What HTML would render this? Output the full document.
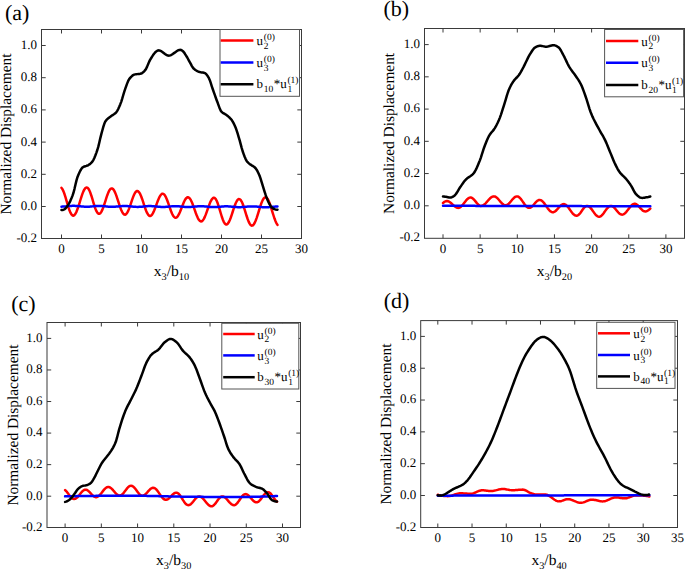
<!DOCTYPE html>
<html><head><meta charset="utf-8"><style>
html,body{margin:0;padding:0;background:#fff;}
svg{display:block;text-rendering:geometricPrecision;font-family:'Liberation Serif',serif;}
.c{fill:none;stroke-width:2.5;stroke-linejoin:round;stroke-linecap:round;}
text{fill:#000;}
</style></head><body>
<svg width="685" height="569" viewBox="0 0 685 569">
<rect width="685" height="569" fill="#fff"/>
<g><path d="M61.50,187.86 L62.50,189.25 L63.49,191.35 L64.49,194.05 L65.48,197.18 L66.48,200.56 L67.47,203.99 L68.47,207.28 L69.46,210.23 L70.46,212.66 L71.45,214.44 L72.45,215.45 L73.44,215.65 L74.44,215.08 L75.44,213.78 L76.43,211.83 L77.43,209.34 L78.42,206.43 L79.42,203.26 L80.41,200.00 L81.41,196.82 L82.40,193.90 L83.40,191.38 L84.39,189.40 L85.39,188.07 L86.38,187.46 L87.38,187.62 L88.38,188.61 L89.37,190.38 L90.37,192.80 L91.36,195.73 L92.36,198.97 L93.35,202.32 L94.35,205.57 L95.34,208.50 L96.34,210.93 L97.33,212.70 L98.33,213.70 L99.32,213.87 L100.32,213.25 L101.32,211.88 L102.31,209.87 L103.31,207.32 L104.30,204.40 L105.30,201.28 L106.29,198.15 L107.29,195.21 L108.28,192.62 L109.28,190.56 L110.27,189.14 L111.27,188.45 L112.26,188.52 L113.26,189.32 L114.26,190.79 L115.25,192.86 L116.25,195.40 L117.24,198.29 L118.24,201.35 L119.23,204.43 L120.23,207.35 L121.22,209.94 L122.22,212.08 L123.21,213.63 L124.21,214.52 L125.21,214.68 L126.20,214.10 L127.20,212.80 L128.19,210.86 L129.19,208.40 L130.18,205.59 L131.18,202.60 L132.17,199.63 L133.17,196.86 L134.16,194.48 L135.16,192.63 L136.15,191.43 L137.15,190.97 L138.15,191.26 L139.14,192.29 L140.14,193.99 L141.13,196.26 L142.13,198.97 L143.12,201.95 L144.12,205.02 L145.11,207.99 L146.11,210.70 L147.10,212.97 L148.10,214.67 L149.09,215.70 L150.09,215.99 L151.09,215.59 L152.08,214.53 L153.08,212.90 L154.07,210.77 L155.07,208.30 L156.06,205.61 L157.06,202.88 L158.05,200.27 L159.05,197.94 L160.04,196.01 L161.04,194.63 L162.03,193.85 L163.03,193.74 L164.03,194.32 L165.02,195.58 L166.02,197.43 L167.01,199.76 L168.01,202.45 L169.00,205.33 L170.00,208.23 L170.99,210.99 L171.99,213.44 L172.98,215.44 L173.98,216.86 L174.97,217.64 L175.97,217.72 L176.97,217.14 L177.96,215.94 L178.96,214.20 L179.95,212.03 L180.95,209.57 L181.94,206.98 L182.94,204.42 L183.93,202.06 L184.93,200.05 L185.92,198.52 L186.92,197.56 L187.91,197.24 L188.91,197.59 L189.91,198.60 L190.90,200.20 L191.90,202.32 L192.89,204.83 L193.89,207.60 L194.88,210.46 L195.88,213.26 L196.87,215.84 L197.87,218.06 L198.86,219.80 L199.86,220.95 L200.85,221.45 L201.85,221.27 L202.85,220.41 L203.84,218.92 L204.84,216.87 L205.83,214.40 L206.83,211.65 L207.82,208.78 L208.82,205.96 L209.81,203.35 L210.81,201.10 L211.80,199.36 L212.80,198.21 L213.79,197.74 L214.79,198.01 L215.79,199.12 L216.78,201.00 L217.78,203.53 L218.77,206.55 L219.77,209.86 L220.76,213.25 L221.76,216.50 L222.75,219.41 L223.75,221.79 L224.74,223.49 L225.74,224.40 L226.74,224.46 L227.73,223.75 L228.73,222.34 L229.72,220.29 L230.72,217.74 L231.71,214.84 L232.71,211.75 L233.70,208.66 L234.70,205.76 L235.69,203.22 L236.69,201.18 L237.68,199.78 L238.68,199.08 L239.68,199.15 L240.67,199.99 L241.67,201.57 L242.66,203.79 L243.66,206.51 L244.65,209.58 L245.65,212.82 L246.64,216.02 L247.64,219.01 L248.63,221.60 L249.63,223.64 L250.62,225.01 L251.62,225.63 L252.62,225.47 L253.61,224.56 L254.61,222.97 L255.60,220.77 L256.60,218.09 L257.59,215.05 L258.59,211.82 L259.58,208.57 L260.58,205.48 L261.57,202.70 L262.57,200.38 L263.56,198.64 L264.56,197.58 L265.56,197.24 L266.55,197.66 L267.55,198.81 L268.54,200.63 L269.54,203.02 L270.53,205.86 L271.53,209.00 L272.52,212.27 L273.52,215.50 L274.51,218.52 L275.51,221.18 L276.50,223.33 L277.50,224.86" stroke="#f00" class="c"/>
<path d="M61.50,206.64 L62.50,206.60 L63.49,206.54 L64.49,206.46 L65.48,206.37 L66.48,206.28 L67.47,206.18 L68.47,206.08 L69.46,206.00 L70.46,205.93 L71.45,205.88 L72.45,205.85 L73.44,205.84 L74.44,205.86 L75.44,205.90 L76.43,205.96 L77.43,206.04 L78.42,206.13 L79.42,206.24 L80.41,206.34 L81.41,206.44 L82.40,206.53 L83.40,206.61 L84.39,206.67 L85.39,206.72 L86.38,206.73 L87.38,206.73 L88.38,206.70 L89.37,206.65 L90.37,206.57 L91.36,206.48 L92.36,206.38 L93.35,206.28 L94.35,206.18 L95.34,206.09 L96.34,206.01 L97.33,205.96 L98.33,205.93 L99.32,205.92 L100.32,205.94 L101.32,205.99 L102.31,206.06 L103.31,206.15 L104.30,206.25 L105.30,206.36 L106.29,206.47 L107.29,206.57 L108.28,206.66 L109.28,206.73 L110.27,206.78 L111.27,206.81 L112.26,206.81 L113.26,206.78 L114.26,206.74 L115.25,206.67 L116.25,206.59 L117.24,206.50 L118.24,206.41 L119.23,206.31 L120.23,206.22 L121.22,206.14 L122.22,206.08 L123.21,206.03 L124.21,206.00 L125.21,206.00 L126.20,206.02 L127.20,206.07 L128.19,206.14 L129.19,206.23 L130.18,206.34 L131.18,206.45 L132.17,206.56 L133.17,206.67 L134.16,206.76 L135.16,206.82 L136.15,206.87 L137.15,206.89 L138.15,206.88 L139.14,206.84 L140.14,206.79 L141.13,206.71 L142.13,206.63 L143.12,206.53 L144.12,206.43 L145.11,206.33 L146.11,206.24 L147.10,206.17 L148.10,206.11 L149.09,206.08 L150.09,206.07 L151.09,206.09 L152.08,206.13 L153.08,206.20 L154.07,206.28 L155.07,206.38 L156.06,206.49 L157.06,206.60 L158.05,206.70 L159.05,206.79 L160.04,206.87 L161.04,206.93 L162.03,206.96 L163.03,206.96 L164.03,206.94 L165.02,206.90 L166.02,206.84 L167.01,206.76 L168.01,206.67 L169.00,206.57 L170.00,206.47 L170.99,206.38 L171.99,206.29 L172.98,206.23 L173.98,206.18 L174.97,206.15 L175.97,206.15 L176.97,206.18 L177.96,206.23 L178.96,206.30 L179.95,206.40 L180.95,206.50 L181.94,206.62 L182.94,206.73 L183.93,206.83 L184.93,206.92 L185.92,206.98 L186.92,207.02 L187.91,207.04 L188.91,207.03 L189.91,206.99 L190.90,206.94 L191.90,206.87 L192.89,206.78 L193.89,206.69 L194.88,206.59 L195.88,206.50 L196.87,206.41 L197.87,206.34 L198.86,206.28 L199.86,206.24 L200.85,206.22 L201.85,206.23 L202.85,206.26 L203.84,206.32 L204.84,206.40 L205.83,206.49 L206.83,206.59 L207.82,206.70 L208.82,206.81 L209.81,206.90 L210.81,206.99 L211.80,207.05 L212.80,207.10 L213.79,207.12 L214.79,207.11 L215.79,207.07 L216.78,207.02 L217.78,206.94 L218.77,206.85 L219.77,206.75 L220.76,206.64 L221.76,206.54 L222.75,206.45 L223.75,206.38 L224.74,206.33 L225.74,206.30 L226.74,206.30 L227.73,206.33 L228.73,206.38 L229.72,206.45 L230.72,206.54 L231.71,206.64 L232.71,206.75 L233.70,206.85 L234.70,206.95 L235.69,207.04 L236.69,207.11 L237.68,207.16 L238.68,207.19 L239.68,207.19 L240.67,207.16 L241.67,207.11 L242.66,207.04 L243.66,206.96 L244.65,206.87 L245.65,206.77 L246.64,206.67 L247.64,206.58 L248.63,206.50 L249.63,206.44 L250.62,206.40 L251.62,206.38 L252.62,206.38 L253.61,206.41 L254.61,206.46 L255.60,206.53 L256.60,206.61 L257.59,206.71 L258.59,206.81 L259.58,206.91 L260.58,207.01 L261.57,207.10 L262.57,207.17 L263.56,207.23 L264.56,207.26 L265.56,207.27 L266.55,207.26 L267.55,207.22 L268.54,207.17 L269.54,207.10 L270.53,207.02 L271.53,206.93 L272.52,206.84 L273.52,206.75 L274.51,206.66 L275.51,206.59 L276.50,206.53 L277.50,206.48" stroke="#00f" class="c"/>
<path d="M61.50,210.04 L62.50,209.94 L63.49,209.68 L64.49,209.32 L65.48,208.52 L66.48,207.32 L67.47,205.99 L68.47,204.44 L69.46,202.64 L70.46,200.60 L71.45,198.34 L72.45,195.88 L73.44,192.94 L74.44,189.07 L75.44,184.80 L76.43,180.65 L77.43,177.17 L78.42,174.70 L79.42,172.49 L80.41,170.51 L81.41,168.84 L82.40,167.61 L83.40,166.89 L84.39,166.48 L85.39,166.18 L86.38,165.90 L87.38,165.54 L88.38,165.03 L89.37,164.42 L90.37,163.68 L91.36,162.79 L92.36,161.66 L93.35,160.05 L94.35,157.99 L95.34,155.56 L96.34,152.87 L97.33,150.00 L98.33,146.63 L99.32,142.45 L100.32,138.08 L101.32,134.18 L102.31,130.53 L103.31,126.92 L104.30,123.76 L105.30,121.49 L106.29,120.14 L107.29,119.11 L108.28,118.27 L109.28,117.53 L110.27,116.80 L111.27,116.02 L112.26,115.33 L113.26,114.70 L114.26,114.04 L115.25,113.27 L116.25,112.29 L117.24,110.88 L118.24,109.02 L119.23,106.82 L120.23,104.42 L121.22,101.83 L122.22,98.67 L123.21,95.24 L124.21,91.88 L125.21,88.94 L126.20,86.12 L127.20,83.39 L128.19,80.97 L129.19,79.14 L130.18,77.90 L131.18,76.79 L132.17,75.85 L133.17,75.12 L134.16,74.62 L135.16,74.37 L136.15,74.22 L137.15,74.12 L138.15,74.04 L139.14,73.94 L140.14,73.79 L141.13,73.54 L142.13,73.02 L143.12,72.25 L144.12,71.29 L145.11,70.21 L146.11,68.73 L147.10,66.64 L148.10,64.26 L149.09,61.89 L150.09,59.86 L151.09,58.23 L152.08,56.62 L153.08,55.09 L154.07,53.70 L155.07,52.50 L156.06,51.57 L157.06,50.93 L158.05,50.45 L159.05,50.35 L160.04,50.59 L161.04,51.07 L162.03,51.71 L163.03,52.46 L164.03,53.25 L165.02,54.01 L166.02,54.70 L167.01,55.24 L168.01,55.57 L169.00,55.63 L170.00,55.44 L170.99,55.05 L171.99,54.51 L172.98,53.86 L173.98,53.13 L174.97,52.39 L175.97,51.67 L176.97,51.01 L177.96,50.46 L178.96,50.06 L179.95,49.86 L180.95,49.96 L181.94,50.44 L182.94,51.15 L183.93,52.32 L184.93,53.80 L185.92,55.38 L186.92,56.96 L187.91,58.74 L188.91,60.56 L189.91,62.31 L190.90,64.19 L191.90,66.06 L192.89,67.68 L193.89,68.83 L194.88,69.61 L195.88,70.28 L196.87,70.85 L197.87,71.33 L198.86,71.73 L199.86,72.05 L200.85,72.29 L201.85,72.45 L202.85,72.59 L203.84,72.78 L204.84,73.08 L205.83,73.77 L206.83,74.88 L207.82,76.29 L208.82,77.90 L209.81,80.16 L210.81,83.10 L211.80,86.27 L212.80,89.25 L213.79,92.07 L214.79,94.92 L215.79,97.73 L216.78,100.45 L217.78,103.06 L218.77,105.84 L219.77,108.56 L220.76,110.78 L221.76,112.07 L222.75,112.80 L223.75,113.33 L224.74,113.90 L225.74,114.60 L226.74,115.31 L227.73,116.06 L228.73,116.87 L229.72,117.77 L230.72,118.80 L231.71,120.02 L232.71,121.56 L233.70,123.39 L234.70,125.44 L235.69,127.76 L236.69,130.57 L237.68,133.73 L238.68,137.02 L239.68,140.37 L240.67,144.09 L241.67,147.86 L242.66,151.27 L243.66,154.09 L244.65,156.73 L245.65,159.08 L246.64,160.94 L247.64,162.20 L248.63,163.13 L249.63,163.90 L250.62,164.61 L251.62,165.33 L252.62,165.94 L253.61,166.53 L254.61,167.25 L255.60,168.25 L256.60,169.68 L257.59,171.47 L258.59,173.51 L259.58,175.78 L260.58,178.65 L261.57,181.90 L262.57,185.19 L263.56,188.30 L264.56,191.51 L265.56,194.69 L266.55,197.56 L267.55,199.96 L268.54,202.20 L269.54,204.24 L270.53,205.94 L271.53,207.17 L272.52,208.06 L273.52,208.73 L274.51,209.14 L275.51,209.43 L276.50,209.64 L277.50,209.72" stroke="#000" class="c"/>
<rect x="41.50" y="29.50" width="260.00" height="209.00" fill="none" stroke="#3a3a3a" stroke-width="1"/>
<path d="M61.50,238.50V234.50 M61.50,29.50V33.50 M101.50,238.50V234.50 M101.50,29.50V33.50 M141.50,238.50V234.50 M141.50,29.50V33.50 M181.50,238.50V234.50 M181.50,29.50V33.50 M221.50,238.50V234.50 M221.50,29.50V33.50 M261.50,238.50V234.50 M261.50,29.50V33.50 M41.50,206.50H45.70 M301.50,206.50H297.30 M41.50,174.30H45.70 M301.50,174.30H297.30 M41.50,142.10H45.70 M301.50,142.10H297.30 M41.50,109.90H45.70 M301.50,109.90H297.30 M41.50,77.70H45.70 M301.50,77.70H297.30 M41.50,45.50H45.70 M301.50,45.50H297.30" stroke="#3a3a3a" stroke-width="1" fill="none" stroke-linecap="butt"/>
<text x="61.50" y="253.00" font-size="13" text-anchor="middle" >0</text>
<text x="101.50" y="253.00" font-size="13" text-anchor="middle" >5</text>
<text x="141.50" y="253.00" font-size="13" text-anchor="middle" >10</text>
<text x="181.50" y="253.00" font-size="13" text-anchor="middle" >15</text>
<text x="221.50" y="253.00" font-size="13" text-anchor="middle" >20</text>
<text x="261.50" y="253.00" font-size="13" text-anchor="middle" >25</text>
<text x="301.50" y="253.00" font-size="13" text-anchor="middle" >30</text>
<text x="37.10" y="242.10" font-size="13" text-anchor="end" >-0.2</text>
<text x="37.10" y="209.90" font-size="13" text-anchor="end" >0.0</text>
<text x="37.10" y="177.70" font-size="13" text-anchor="end" >0.2</text>
<text x="37.10" y="145.50" font-size="13" text-anchor="end" >0.4</text>
<text x="37.10" y="113.30" font-size="13" text-anchor="end" >0.6</text>
<text x="37.10" y="81.10" font-size="13" text-anchor="end" >0.8</text>
<text x="37.10" y="48.90" font-size="13" text-anchor="end" >1.0</text>
<text x="171.50" y="275.70" font-size="15.5" text-anchor="middle">x<tspan font-size="10.3" dy="4.4">3</tspan><tspan dy="-4.4">/b</tspan><tspan font-size="10.3" dy="4.4">10</tspan></text>
<text transform="translate(10.70,134.00) rotate(-90)" font-size="15.4" text-anchor="middle">Normalized Displacement</text>
<text x="4.90" y="20.30" font-size="22" text-anchor="start" >(a)</text>
<rect x="220.00" y="29.50" width="79.50" height="66.80" fill="#fff" stroke="#555" stroke-width="1"/>
<path d="M220.70,40.60H253.40" stroke="#f00" stroke-width="2.5"/>
<text x="256.50" y="45.40" font-size="13">u<tspan font-size="9.5" dx="0.8" dy="3.6">2</tspan><tspan font-size="9.5" dx="-4.75" dy="-8.6">(0)</tspan></text>
<path d="M220.70,62.60H253.40" stroke="#00f" stroke-width="2.5"/>
<text x="256.50" y="67.10" font-size="13">u<tspan font-size="9.5" dx="0.8" dy="3.6">3</tspan><tspan font-size="9.5" dx="-4.75" dy="-8.6">(0)</tspan></text>
<path d="M220.70,84.30H253.40" stroke="#000" stroke-width="2.5"/>
<text x="256.50" y="88.40" font-size="13">b<tspan font-size="9.5" dx="0.8" dy="3.6">10</tspan><tspan dx="0.5" dy="-3.6">*u</tspan><tspan font-size="9.5" dx="0.6" dy="3.6">1</tspan><tspan font-size="9.5" dx="-4.75" dy="-8.6">(1)</tspan></text></g>
<g><path d="M443.00,202.97 L444.00,202.17 L444.99,201.55 L445.99,201.17 L446.99,201.04 L447.98,201.19 L448.98,201.58 L449.98,202.20 L450.97,202.99 L451.97,203.89 L452.97,204.83 L453.96,205.75 L454.96,206.57 L455.96,207.23 L456.95,207.68 L457.95,207.89 L458.95,207.81 L459.94,207.40 L460.94,206.69 L461.94,205.72 L462.93,204.56 L463.93,203.27 L464.93,201.95 L465.92,200.67 L466.92,199.53 L467.92,198.59 L468.91,197.92 L469.91,197.56 L470.91,197.53 L471.90,197.87 L472.90,198.54 L473.90,199.49 L474.89,200.64 L475.89,201.88 L476.89,203.11 L477.88,204.22 L478.88,205.11 L479.87,205.71 L480.87,205.96 L481.87,205.86 L482.86,205.49 L483.86,204.87 L484.86,204.02 L485.85,203.01 L486.85,201.89 L487.85,200.72 L488.84,199.58 L489.84,198.54 L490.84,197.65 L491.83,196.97 L492.83,196.53 L493.83,196.37 L494.82,196.51 L495.82,196.96 L496.82,197.68 L497.81,198.64 L498.81,199.75 L499.81,200.94 L500.80,202.12 L501.80,203.21 L502.80,204.13 L503.79,204.82 L504.79,205.22 L505.79,205.31 L506.78,205.07 L507.78,204.51 L508.78,203.68 L509.77,202.64 L510.77,201.47 L511.77,200.25 L512.76,199.07 L513.76,198.03 L514.76,197.19 L515.75,196.63 L516.75,196.38 L517.75,196.48 L518.74,196.94 L519.74,197.75 L520.74,198.84 L521.73,200.15 L522.73,201.59 L523.73,203.07 L524.72,204.48 L525.72,205.74 L526.72,206.76 L527.71,207.48 L528.71,207.85 L529.71,207.85 L530.70,207.49 L531.70,206.80 L532.70,205.86 L533.69,204.74 L534.69,203.54 L535.69,202.38 L536.68,201.36 L537.68,200.56 L538.68,200.07 L539.67,199.92 L540.67,200.12 L541.67,200.65 L542.66,201.49 L543.66,202.58 L544.66,203.87 L545.65,205.28 L546.65,206.73 L547.65,208.15 L548.64,209.46 L549.64,210.57 L550.63,211.44 L551.63,212.01 L552.63,212.24 L553.62,212.14 L554.62,211.70 L555.62,210.98 L556.61,210.02 L557.61,208.91 L558.61,207.74 L559.60,206.61 L560.60,205.61 L561.60,204.81 L562.59,204.30 L563.59,204.11 L564.59,204.26 L565.58,204.74 L566.58,205.53 L567.58,206.58 L568.57,207.83 L569.57,209.21 L570.57,210.63 L571.56,212.01 L572.56,213.27 L573.56,214.33 L574.55,215.13 L575.55,215.63 L576.55,215.79 L577.54,215.57 L578.54,214.93 L579.54,213.95 L580.53,212.69 L581.53,211.28 L582.53,209.82 L583.52,208.46 L584.52,207.30 L585.52,206.44 L586.51,205.97 L587.51,205.91 L588.51,206.23 L589.50,206.91 L590.50,207.89 L591.50,209.10 L592.49,210.47 L593.49,211.90 L594.49,213.29 L595.48,214.54 L596.48,215.57 L597.48,216.31 L598.47,216.70 L599.47,216.72 L600.47,216.37 L601.46,215.68 L602.46,214.68 L603.46,213.45 L604.45,212.07 L605.45,210.64 L606.45,209.26 L607.44,208.02 L608.44,207.01 L609.44,206.29 L610.43,205.93 L611.43,205.93 L612.43,206.27 L613.42,206.93 L614.42,207.85 L615.42,208.96 L616.41,210.18 L617.41,211.40 L618.41,212.53 L619.40,213.49 L620.40,214.19 L621.40,214.59 L622.39,214.65 L623.39,214.37 L624.38,213.78 L625.38,212.92 L626.38,211.82 L627.37,210.57 L628.37,209.24 L629.37,207.90 L630.36,206.65 L631.36,205.55 L632.36,204.68 L633.35,204.08 L634.35,203.80 L635.35,203.86 L636.34,204.25 L637.34,204.94 L638.34,205.88 L639.33,206.97 L640.33,208.12 L641.33,209.22 L642.32,210.18 L643.32,210.90 L644.32,211.34 L645.31,211.44 L646.31,211.26 L647.31,210.84 L648.30,210.23 L649.30,209.46 L650.30,208.59" stroke="#f00" class="c"/>
<path d="M443.00,205.80 L444.00,205.80 L444.99,205.80 L445.99,205.81 L446.99,205.81 L447.98,205.81 L448.98,205.81 L449.98,205.82 L450.97,205.82 L451.97,205.82 L452.97,205.82 L453.96,205.83 L454.96,205.83 L455.96,205.83 L456.95,205.83 L457.95,205.83 L458.95,205.84 L459.94,205.84 L460.94,205.84 L461.94,205.84 L462.93,205.85 L463.93,205.85 L464.93,205.85 L465.92,205.85 L466.92,205.86 L467.92,205.86 L468.91,205.86 L469.91,205.86 L470.91,205.87 L471.90,205.87 L472.90,205.87 L473.90,205.87 L474.89,205.87 L475.89,205.88 L476.89,205.88 L477.88,205.88 L478.88,205.88 L479.87,205.89 L480.87,205.89 L481.87,205.89 L482.86,205.89 L483.86,205.90 L484.86,205.90 L485.85,205.90 L486.85,205.90 L487.85,205.90 L488.84,205.91 L489.84,205.91 L490.84,205.91 L491.83,205.91 L492.83,205.92 L493.83,205.92 L494.82,205.92 L495.82,205.92 L496.82,205.93 L497.81,205.93 L498.81,205.93 L499.81,205.93 L500.80,205.93 L501.80,205.94 L502.80,205.94 L503.79,205.94 L504.79,205.94 L505.79,205.95 L506.78,205.95 L507.78,205.95 L508.78,205.95 L509.77,205.96 L510.77,205.96 L511.77,205.96 L512.76,205.96 L513.76,205.97 L514.76,205.97 L515.75,205.97 L516.75,205.97 L517.75,205.97 L518.74,205.98 L519.74,205.98 L520.74,205.98 L521.73,205.98 L522.73,205.99 L523.73,205.99 L524.72,205.99 L525.72,205.99 L526.72,206.00 L527.71,206.00 L528.71,206.00 L529.71,206.00 L530.70,206.00 L531.70,206.01 L532.70,206.01 L533.69,206.01 L534.69,206.01 L535.69,206.02 L536.68,206.02 L537.68,206.02 L538.68,206.02 L539.67,206.03 L540.67,206.03 L541.67,206.03 L542.66,206.03 L543.66,206.03 L544.66,206.04 L545.65,206.04 L546.65,206.04 L547.65,206.04 L548.64,206.05 L549.64,206.05 L550.63,206.05 L551.63,206.05 L552.63,206.06 L553.62,206.06 L554.62,206.06 L555.62,206.06 L556.61,206.07 L557.61,206.07 L558.61,206.07 L559.60,206.07 L560.60,206.07 L561.60,206.08 L562.59,206.08 L563.59,206.08 L564.59,206.08 L565.58,206.09 L566.58,206.09 L567.58,206.09 L568.57,206.09 L569.57,206.10 L570.57,206.10 L571.56,206.10 L572.56,206.10 L573.56,206.10 L574.55,206.11 L575.55,206.11 L576.55,206.11 L577.54,206.11 L578.54,206.12 L579.54,206.12 L580.53,206.12 L581.53,206.12 L582.53,206.13 L583.52,206.13 L584.52,206.13 L585.52,206.13 L586.51,206.13 L587.51,206.14 L588.51,206.14 L589.50,206.14 L590.50,206.14 L591.50,206.15 L592.49,206.15 L593.49,206.15 L594.49,206.15 L595.48,206.16 L596.48,206.16 L597.48,206.16 L598.47,206.16 L599.47,206.17 L600.47,206.17 L601.46,206.17 L602.46,206.17 L603.46,206.17 L604.45,206.18 L605.45,206.18 L606.45,206.18 L607.44,206.18 L608.44,206.19 L609.44,206.19 L610.43,206.19 L611.43,206.19 L612.43,206.20 L613.42,206.20 L614.42,206.20 L615.42,206.20 L616.41,206.20 L617.41,206.21 L618.41,206.21 L619.40,206.21 L620.40,206.21 L621.40,206.22 L622.39,206.22 L623.39,206.22 L624.38,206.22 L625.38,206.23 L626.38,206.23 L627.37,206.23 L628.37,206.23 L629.37,206.23 L630.36,206.24 L631.36,206.24 L632.36,206.24 L633.35,206.24 L634.35,206.25 L635.35,206.25 L636.34,206.25 L637.34,206.25 L638.34,206.26 L639.33,206.26 L640.33,206.26 L641.33,206.26 L642.32,206.27 L643.32,206.27 L644.32,206.27 L645.31,206.27 L646.31,206.27 L647.31,206.28 L648.30,206.28 L649.30,206.28 L650.30,206.28" stroke="#00f" class="c"/>
<path d="M443.00,196.45 L444.00,196.56 L444.99,196.69 L445.99,196.83 L446.99,196.98 L447.98,197.19 L448.98,197.41 L449.98,197.56 L450.97,197.53 L451.97,197.19 L452.97,196.62 L453.96,195.91 L454.96,195.14 L455.96,194.01 L456.95,192.51 L457.95,190.81 L458.95,189.09 L459.94,187.53 L460.94,186.09 L461.94,184.64 L462.93,183.21 L463.93,181.84 L464.93,180.58 L465.92,179.47 L466.92,178.56 L467.92,177.80 L468.91,177.13 L469.91,176.50 L470.91,175.83 L471.90,175.08 L472.90,174.17 L473.90,173.02 L474.89,171.50 L475.89,169.64 L476.89,167.53 L477.88,165.23 L478.88,162.82 L479.87,160.37 L480.87,157.57 L481.87,154.46 L482.86,151.27 L483.86,148.21 L484.86,145.51 L485.85,142.97 L486.85,140.51 L487.85,138.24 L488.84,136.21 L489.84,134.51 L490.84,133.15 L491.83,131.98 L492.83,130.85 L493.83,129.60 L494.82,128.10 L495.82,126.39 L496.82,124.51 L497.81,122.47 L498.81,120.26 L499.81,117.86 L500.80,115.12 L501.80,112.11 L502.80,108.96 L503.79,105.80 L504.79,102.69 L505.79,99.37 L506.78,95.97 L507.78,92.75 L508.78,89.94 L509.77,87.69 L510.77,85.70 L511.77,83.92 L512.76,82.31 L513.76,80.86 L514.76,79.57 L515.75,78.49 L516.75,77.51 L517.75,76.48 L518.74,75.29 L519.74,73.83 L520.74,72.16 L521.73,70.36 L522.73,68.49 L523.73,66.62 L524.72,64.65 L525.72,62.56 L526.72,60.42 L527.71,58.34 L528.71,56.41 L529.71,54.72 L530.70,53.09 L531.70,51.47 L532.70,49.98 L533.69,48.70 L534.69,47.73 L535.69,47.13 L536.68,46.64 L537.68,46.22 L538.68,45.91 L539.67,45.75 L540.67,45.75 L541.67,45.90 L542.66,46.13 L543.66,46.37 L544.66,46.58 L545.65,46.69 L546.65,46.66 L547.65,46.51 L548.64,46.29 L549.64,46.02 L550.63,45.74 L551.63,45.50 L552.63,45.32 L553.62,45.25 L554.62,45.35 L555.62,45.66 L556.61,46.13 L557.61,46.73 L558.61,47.39 L559.60,48.42 L560.60,49.94 L561.60,51.75 L562.59,53.65 L563.59,55.48 L564.59,57.42 L565.58,59.50 L566.58,61.64 L567.58,63.72 L568.57,65.66 L569.57,67.35 L570.57,68.88 L571.56,70.29 L572.56,71.63 L573.56,72.95 L574.55,74.29 L575.55,75.70 L576.55,77.18 L577.54,78.64 L578.54,80.14 L579.54,81.74 L580.53,83.52 L581.53,85.59 L582.53,88.00 L583.52,90.66 L584.52,93.45 L585.52,96.28 L586.51,99.19 L587.51,102.35 L588.51,105.59 L589.50,108.78 L590.50,111.76 L591.50,114.37 L592.49,116.65 L593.49,118.75 L594.49,120.72 L595.48,122.64 L596.48,124.56 L597.48,126.42 L598.47,128.22 L599.47,130.01 L600.47,131.80 L601.46,133.54 L602.46,135.24 L603.46,136.98 L604.45,138.83 L605.45,140.87 L606.45,143.12 L607.44,145.53 L608.44,148.02 L609.44,150.49 L610.43,152.90 L611.43,155.32 L612.43,157.78 L613.42,160.20 L614.42,162.50 L615.42,164.61 L616.41,166.60 L617.41,168.51 L618.41,170.27 L619.40,171.83 L620.40,173.14 L621.40,174.24 L622.39,175.22 L623.39,176.15 L624.38,177.08 L625.38,178.11 L626.38,179.27 L627.37,180.50 L628.37,181.80 L629.37,183.16 L630.36,184.58 L631.36,186.09 L632.36,187.89 L633.35,189.85 L634.35,191.74 L635.35,193.37 L636.34,194.51 L637.34,195.43 L638.34,196.29 L639.33,197.03 L640.33,197.58 L641.33,197.87 L642.32,197.89 L643.32,197.80 L644.32,197.66 L645.31,197.50 L646.31,197.34 L647.31,197.16 L648.30,196.95 L649.30,196.71 L650.30,196.45" stroke="#000" class="c"/>
<rect x="424.50" y="28.50" width="260.00" height="209.80" fill="none" stroke="#3a3a3a" stroke-width="1"/>
<path d="M443.00,238.30V234.30 M443.00,28.50V32.50 M480.15,238.30V234.30 M480.15,28.50V32.50 M517.30,238.30V234.30 M517.30,28.50V32.50 M554.45,238.30V234.30 M554.45,28.50V32.50 M591.60,238.30V234.30 M591.60,28.50V32.50 M628.75,238.30V234.30 M628.75,28.50V32.50 M665.90,238.30V234.30 M665.90,28.50V32.50 M424.50,205.80H428.70 M684.50,205.80H680.30 M424.50,173.56H428.70 M684.50,173.56H680.30 M424.50,141.32H428.70 M684.50,141.32H680.30 M424.50,109.08H428.70 M684.50,109.08H680.30 M424.50,76.84H428.70 M684.50,76.84H680.30 M424.50,44.60H428.70 M684.50,44.60H680.30" stroke="#3a3a3a" stroke-width="1" fill="none" stroke-linecap="butt"/>
<text x="443.00" y="252.80" font-size="13" text-anchor="middle" >0</text>
<text x="480.15" y="252.80" font-size="13" text-anchor="middle" >5</text>
<text x="517.30" y="252.80" font-size="13" text-anchor="middle" >10</text>
<text x="554.45" y="252.80" font-size="13" text-anchor="middle" >15</text>
<text x="591.60" y="252.80" font-size="13" text-anchor="middle" >20</text>
<text x="628.75" y="252.80" font-size="13" text-anchor="middle" >25</text>
<text x="665.90" y="252.80" font-size="13" text-anchor="middle" >30</text>
<text x="420.10" y="241.44" font-size="13" text-anchor="end" >-0.2</text>
<text x="420.10" y="209.20" font-size="13" text-anchor="end" >0.0</text>
<text x="420.10" y="176.96" font-size="13" text-anchor="end" >0.2</text>
<text x="420.10" y="144.72" font-size="13" text-anchor="end" >0.4</text>
<text x="420.10" y="112.48" font-size="13" text-anchor="end" >0.6</text>
<text x="420.10" y="80.24" font-size="13" text-anchor="end" >0.8</text>
<text x="420.10" y="48.00" font-size="13" text-anchor="end" >1.0</text>
<text x="554.50" y="275.50" font-size="15.5" text-anchor="middle">x<tspan font-size="10.3" dy="4.4">3</tspan><tspan dy="-4.4">/b</tspan><tspan font-size="10.3" dy="4.4">20</tspan></text>
<text transform="translate(393.90,133.40) rotate(-90)" font-size="15.4" text-anchor="middle">Normalized Displacement</text>
<text x="383.40" y="15.70" font-size="22" text-anchor="start" >(b)</text>
<rect x="604.60" y="29.50" width="79.00" height="67.30" fill="#fff" stroke="#555" stroke-width="1"/>
<path d="M606.00,41.00H638.30" stroke="#f00" stroke-width="2.5"/>
<text x="641.20" y="45.80" font-size="13">u<tspan font-size="9.5" dx="0.8" dy="3.6">2</tspan><tspan font-size="9.5" dx="-4.75" dy="-8.6">(0)</tspan></text>
<path d="M606.00,62.70H638.30" stroke="#00f" stroke-width="2.5"/>
<text x="641.20" y="67.20" font-size="13">u<tspan font-size="9.5" dx="0.8" dy="3.6">3</tspan><tspan font-size="9.5" dx="-4.75" dy="-8.6">(0)</tspan></text>
<path d="M606.00,84.90H638.30" stroke="#000" stroke-width="2.5"/>
<text x="641.20" y="89.00" font-size="13">b<tspan font-size="9.5" dx="0.8" dy="3.6">20</tspan><tspan dx="0.5" dy="-3.6">*u</tspan><tspan font-size="9.5" dx="0.6" dy="3.6">1</tspan><tspan font-size="9.5" dx="-4.75" dy="-8.6">(1)</tspan></text></g>
<g><path d="M65.10,490.06 L66.10,491.00 L67.10,492.17 L68.10,493.50 L69.10,494.87 L70.10,496.19 L71.10,497.34 L72.10,498.24 L73.10,498.82 L74.10,499.04 L75.10,498.88 L76.09,498.39 L77.09,497.58 L78.09,496.53 L79.09,495.32 L80.09,494.03 L81.09,492.76 L82.09,491.62 L83.09,490.68 L84.09,490.02 L85.09,489.69 L86.09,489.70 L87.09,490.05 L88.09,490.69 L89.09,491.57 L90.09,492.62 L91.09,493.73 L92.09,494.82 L93.09,495.77 L94.09,496.52 L95.09,496.99 L96.09,497.15 L97.09,496.97 L98.08,496.47 L99.08,495.68 L100.08,494.65 L101.08,493.46 L102.08,492.17 L103.08,490.88 L104.08,489.66 L105.08,488.60 L106.08,487.77 L107.08,487.21 L108.08,486.98 L109.08,487.07 L110.08,487.48 L111.08,488.18 L112.08,489.11 L113.08,490.21 L114.08,491.38 L115.08,492.55 L116.08,493.62 L117.08,494.51 L118.08,495.16 L119.08,495.51 L120.07,495.54 L121.07,495.20 L122.07,494.52 L123.07,493.55 L124.07,492.35 L125.07,491.03 L126.07,489.67 L127.07,488.39 L128.07,487.28 L129.07,486.42 L130.07,485.88 L131.07,485.71 L132.07,485.91 L133.07,486.48 L134.07,487.37 L135.07,488.52 L136.07,489.84 L137.07,491.23 L138.07,492.57 L139.07,493.78 L140.07,494.75 L141.06,495.41 L142.06,495.71 L143.06,495.64 L144.06,495.25 L145.06,494.57 L146.06,493.65 L147.06,492.57 L148.06,491.43 L149.06,490.31 L150.06,489.31 L151.06,488.51 L152.06,487.98 L153.06,487.76 L154.06,487.89 L155.06,488.38 L156.06,489.20 L157.06,490.31 L158.06,491.63 L159.06,493.09 L160.06,494.58 L161.06,496.04 L162.06,497.35 L163.05,498.44 L164.05,499.25 L165.05,499.72 L166.05,499.82 L167.05,499.59 L168.05,499.07 L169.05,498.29 L170.05,497.33 L171.05,496.28 L172.05,495.22 L173.05,494.25 L174.05,493.46 L175.05,492.91 L176.05,492.66 L177.05,492.76 L178.05,493.27 L179.05,494.17 L180.05,495.39 L181.05,496.86 L182.05,498.47 L183.05,500.11 L184.05,501.67 L185.04,503.04 L186.04,504.13 L187.04,504.86 L188.04,505.18 L189.04,505.09 L190.04,504.65 L191.04,503.89 L192.04,502.87 L193.04,501.69 L194.04,500.43 L195.04,499.20 L196.04,498.11 L197.04,497.24 L198.04,496.67 L199.04,496.44 L200.04,496.56 L201.04,496.99 L202.04,497.70 L203.04,498.65 L204.04,499.77 L205.04,501.00 L206.04,502.25 L207.03,503.45 L208.03,504.51 L209.03,505.36 L210.03,505.96 L211.03,506.27 L212.03,506.24 L213.03,505.82 L214.03,505.03 L215.03,503.93 L216.03,502.63 L217.03,501.22 L218.03,499.82 L219.03,498.55 L220.03,497.51 L221.03,496.80 L222.03,496.46 L223.03,496.51 L224.03,496.88 L225.03,497.53 L226.03,498.42 L227.03,499.49 L228.02,500.66 L229.02,501.83 L230.02,502.94 L231.02,503.88 L232.02,504.61 L233.02,505.06 L234.02,505.19 L235.02,504.96 L236.02,504.35 L237.02,503.38 L238.02,502.15 L239.02,500.73 L240.02,499.23 L241.02,497.76 L242.02,496.43 L243.02,495.33 L244.02,494.54 L245.02,494.13 L246.02,494.11 L247.02,494.44 L248.02,495.08 L249.02,495.98 L250.01,497.06 L251.01,498.25 L252.01,499.42 L253.01,500.50 L254.01,501.39 L255.01,502.02 L256.01,502.33 L257.01,502.29 L258.01,501.89 L259.01,501.15 L260.01,500.13 L261.01,498.90 L262.01,497.55 L263.01,496.18 L264.01,494.89 L265.01,493.77 L266.01,492.91 L267.01,492.37 L268.01,492.18 L269.01,492.39 L270.01,493.01 L271.01,493.99 L272.00,495.25 L273.00,496.68 L274.00,498.17 L275.00,499.59 L276.00,500.82 L277.00,501.76" stroke="#f00" class="c"/>
<path d="M65.10,496.36 L66.10,496.34 L67.10,496.31 L68.10,496.29 L69.10,496.27 L70.10,496.25 L71.10,496.23 L72.10,496.21 L73.10,496.19 L74.10,496.17 L75.10,496.15 L76.09,496.14 L77.09,496.12 L78.09,496.10 L79.09,496.08 L80.09,496.07 L81.09,496.05 L82.09,496.04 L83.09,496.02 L84.09,496.01 L85.09,496.00 L86.09,495.98 L87.09,495.97 L88.09,495.96 L89.09,495.94 L90.09,495.93 L91.09,495.92 L92.09,495.91 L93.09,495.90 L94.09,495.89 L95.09,495.88 L96.09,495.87 L97.09,495.86 L98.08,495.85 L99.08,495.84 L100.08,495.83 L101.08,495.83 L102.08,495.82 L103.08,495.81 L104.08,495.81 L105.08,495.80 L106.08,495.79 L107.08,495.79 L108.08,495.78 L109.08,495.78 L110.08,495.77 L111.08,495.77 L112.08,495.76 L113.08,495.76 L114.08,495.75 L115.08,495.75 L116.08,495.75 L117.08,495.74 L118.08,495.74 L119.08,495.74 L120.07,495.74 L121.07,495.74 L122.07,495.73 L123.07,495.73 L124.07,495.73 L125.07,495.73 L126.07,495.73 L127.07,495.73 L128.07,495.73 L129.07,495.73 L130.07,495.73 L131.07,495.73 L132.07,495.73 L133.07,495.73 L134.07,495.74 L135.07,495.74 L136.07,495.75 L137.07,495.76 L138.07,495.76 L139.07,495.78 L140.07,495.79 L141.06,495.80 L142.06,495.81 L143.06,495.83 L144.06,495.84 L145.06,495.86 L146.06,495.87 L147.06,495.89 L148.06,495.91 L149.06,495.93 L150.06,495.94 L151.06,495.96 L152.06,495.99 L153.06,496.01 L154.06,496.03 L155.06,496.05 L156.06,496.07 L157.06,496.09 L158.06,496.12 L159.06,496.14 L160.06,496.16 L161.06,496.19 L162.06,496.21 L163.05,496.24 L164.05,496.26 L165.05,496.28 L166.05,496.31 L167.05,496.33 L168.05,496.36 L169.05,496.38 L170.05,496.40 L171.05,496.43 L172.05,496.45 L173.05,496.47 L174.05,496.49 L175.05,496.52 L176.05,496.54 L177.05,496.56 L178.05,496.58 L179.05,496.60 L180.05,496.62 L181.05,496.64 L182.05,496.66 L183.05,496.68 L184.05,496.70 L185.04,496.71 L186.04,496.73 L187.04,496.74 L188.04,496.76 L189.04,496.77 L190.04,496.78 L191.04,496.79 L192.04,496.80 L193.04,496.81 L194.04,496.82 L195.04,496.83 L196.04,496.83 L197.04,496.84 L198.04,496.85 L199.04,496.85 L200.04,496.86 L201.04,496.86 L202.04,496.87 L203.04,496.87 L204.04,496.88 L205.04,496.88 L206.04,496.89 L207.03,496.89 L208.03,496.90 L209.03,496.90 L210.03,496.91 L211.03,496.91 L212.03,496.92 L213.03,496.92 L214.03,496.93 L215.03,496.93 L216.03,496.94 L217.03,496.94 L218.03,496.94 L219.03,496.95 L220.03,496.95 L221.03,496.96 L222.03,496.96 L223.03,496.96 L224.03,496.97 L225.03,496.97 L226.03,496.97 L227.03,496.97 L228.02,496.98 L229.02,496.98 L230.02,496.98 L231.02,496.98 L232.02,496.98 L233.02,496.98 L234.02,496.99 L235.02,496.99 L236.02,496.99 L237.02,496.99 L238.02,496.99 L239.02,496.99 L240.02,496.99 L241.02,496.99 L242.02,496.98 L243.02,496.97 L244.02,496.97 L245.02,496.96 L246.02,496.94 L247.02,496.93 L248.02,496.92 L249.02,496.90 L250.01,496.88 L251.01,496.86 L252.01,496.84 L253.01,496.82 L254.01,496.80 L255.01,496.78 L256.01,496.75 L257.01,496.72 L258.01,496.70 L259.01,496.67 L260.01,496.64 L261.01,496.61 L262.01,496.58 L263.01,496.55 L264.01,496.51 L265.01,496.48 L266.01,496.45 L267.01,496.41 L268.01,496.38 L269.01,496.34 L270.01,496.30 L271.01,496.27 L272.00,496.23 L273.00,496.19 L274.00,496.16 L275.00,496.12 L276.00,496.08 L277.00,496.04" stroke="#00f" class="c"/>
<path d="M65.10,501.88 L66.10,501.65 L67.10,501.24 L68.10,500.70 L69.10,500.06 L70.10,499.31 L71.10,498.24 L72.10,496.97 L73.10,495.63 L74.10,494.33 L75.10,492.93 L76.09,491.45 L77.09,490.05 L78.09,488.88 L79.09,487.99 L80.09,487.19 L81.09,486.53 L82.09,486.09 L83.09,485.83 L84.09,485.64 L85.09,485.48 L86.09,485.28 L87.09,484.99 L88.09,484.63 L89.09,484.19 L90.09,483.62 L91.09,482.80 L92.09,481.49 L93.09,479.90 L94.09,478.21 L95.09,476.38 L96.09,474.31 L97.09,472.19 L98.08,470.19 L99.08,468.23 L100.08,466.28 L101.08,464.42 L102.08,462.73 L103.08,461.26 L104.08,459.94 L105.08,458.71 L106.08,457.48 L107.08,456.19 L108.08,454.92 L109.08,453.66 L110.08,452.34 L111.08,450.88 L112.08,449.29 L113.08,447.59 L114.08,445.71 L115.08,443.55 L116.08,440.97 L117.08,437.45 L118.08,433.46 L119.08,429.68 L120.07,426.37 L121.07,423.13 L122.07,419.99 L123.07,416.99 L124.07,414.18 L125.07,411.59 L126.07,409.27 L127.07,407.16 L128.07,405.19 L129.07,403.31 L130.07,401.44 L131.07,399.52 L132.07,397.52 L133.07,395.54 L134.07,393.55 L135.07,391.50 L136.07,389.35 L137.07,387.03 L138.07,384.56 L139.07,381.99 L140.07,379.36 L141.06,376.73 L142.06,374.10 L143.06,371.31 L144.06,368.49 L145.06,365.81 L146.06,363.42 L147.06,361.41 L148.06,359.55 L149.06,357.84 L150.06,356.32 L151.06,355.03 L152.06,354.01 L153.06,353.19 L154.06,352.50 L155.06,351.88 L156.06,351.28 L157.06,350.64 L158.06,349.90 L159.06,348.99 L160.06,347.84 L161.06,346.53 L162.06,345.18 L163.05,343.90 L164.05,342.82 L165.05,341.99 L166.05,341.20 L167.05,340.44 L168.05,339.76 L169.05,339.24 L170.05,338.93 L171.05,338.89 L172.05,339.13 L173.05,339.60 L174.05,340.24 L175.05,341.00 L176.05,341.81 L177.05,342.65 L178.05,343.76 L179.05,345.13 L180.05,346.65 L181.05,348.18 L182.05,349.62 L183.05,350.84 L184.05,351.88 L185.04,352.83 L186.04,353.73 L187.04,354.64 L188.04,355.60 L189.04,356.66 L190.04,357.87 L191.04,359.23 L192.04,360.74 L193.04,362.39 L194.04,364.19 L195.04,366.15 L196.04,368.42 L197.04,370.99 L198.04,373.73 L199.04,376.51 L200.04,379.22 L201.04,382.00 L202.04,384.87 L203.04,387.70 L204.04,390.40 L205.04,392.84 L206.04,395.03 L207.03,397.07 L208.03,399.00 L209.03,400.88 L210.03,402.77 L211.03,404.60 L212.03,406.34 L213.03,408.07 L214.03,409.90 L215.03,411.91 L216.03,414.19 L217.03,416.68 L218.03,419.32 L219.03,422.05 L220.03,424.80 L221.03,427.56 L222.03,430.40 L223.03,433.31 L224.03,436.26 L225.03,439.25 L226.03,442.53 L227.03,445.81 L228.02,448.42 L229.02,450.44 L230.02,452.22 L231.02,453.80 L232.02,455.25 L233.02,456.63 L234.02,457.91 L235.02,459.02 L236.02,460.04 L237.02,461.06 L238.02,462.16 L239.02,463.43 L240.02,464.98 L241.02,466.90 L242.02,469.02 L243.02,471.21 L244.02,473.29 L245.02,475.18 L246.02,477.10 L247.02,479.02 L248.02,480.79 L249.02,482.28 L250.01,483.36 L251.01,484.17 L252.01,484.86 L253.01,485.46 L254.01,485.98 L255.01,486.44 L256.01,486.86 L257.01,487.19 L258.01,487.47 L259.01,487.71 L260.01,487.97 L261.01,488.29 L262.01,488.68 L263.01,489.26 L264.01,490.07 L265.01,491.07 L266.01,492.19 L267.01,493.35 L268.01,494.64 L269.01,496.30 L270.01,497.97 L271.01,499.32 L272.00,500.02 L273.00,500.52 L274.00,500.94 L275.00,501.27 L276.00,501.49 L277.00,501.57" stroke="#000" class="c"/>
<rect x="47.00" y="322.50" width="253.50" height="205.00" fill="none" stroke="#3a3a3a" stroke-width="1"/>
<path d="M65.10,527.50V523.50 M65.10,322.50V326.50 M101.33,527.50V523.50 M101.33,322.50V326.50 M137.57,527.50V523.50 M137.57,322.50V326.50 M173.81,527.50V523.50 M173.81,322.50V326.50 M210.04,527.50V523.50 M210.04,322.50V326.50 M246.28,527.50V523.50 M246.28,322.50V326.50 M282.51,527.50V523.50 M282.51,322.50V326.50 M47.00,496.20H51.20 M300.50,496.20H296.30 M47.00,464.64H51.20 M300.50,464.64H296.30 M47.00,433.08H51.20 M300.50,433.08H296.30 M47.00,401.52H51.20 M300.50,401.52H296.30 M47.00,369.96H51.20 M300.50,369.96H296.30 M47.00,338.40H51.20 M300.50,338.40H296.30" stroke="#3a3a3a" stroke-width="1" fill="none" stroke-linecap="butt"/>
<text x="65.10" y="542.00" font-size="13" text-anchor="middle" >0</text>
<text x="101.33" y="542.00" font-size="13" text-anchor="middle" >5</text>
<text x="137.57" y="542.00" font-size="13" text-anchor="middle" >10</text>
<text x="173.81" y="542.00" font-size="13" text-anchor="middle" >15</text>
<text x="210.04" y="542.00" font-size="13" text-anchor="middle" >20</text>
<text x="246.28" y="542.00" font-size="13" text-anchor="middle" >25</text>
<text x="282.51" y="542.00" font-size="13" text-anchor="middle" >30</text>
<text x="42.60" y="531.16" font-size="13" text-anchor="end" >-0.2</text>
<text x="42.60" y="499.60" font-size="13" text-anchor="end" >0.0</text>
<text x="42.60" y="468.04" font-size="13" text-anchor="end" >0.2</text>
<text x="42.60" y="436.48" font-size="13" text-anchor="end" >0.4</text>
<text x="42.60" y="404.92" font-size="13" text-anchor="end" >0.6</text>
<text x="42.60" y="373.36" font-size="13" text-anchor="end" >0.8</text>
<text x="42.60" y="341.80" font-size="13" text-anchor="end" >1.0</text>
<text x="173.75" y="564.70" font-size="15.5" text-anchor="middle">x<tspan font-size="10.3" dy="4.4">3</tspan><tspan dy="-4.4">/b</tspan><tspan font-size="10.3" dy="4.4">30</tspan></text>
<text transform="translate(17.70,425.00) rotate(-90)" font-size="15.4" text-anchor="middle">Normalized Displacement</text>
<text x="11.20" y="310.80" font-size="22" text-anchor="start" >(c)</text>
<rect x="221.80" y="323.30" width="77.00" height="65.70" fill="#fff" stroke="#555" stroke-width="1"/>
<path d="M223.20,334.00H254.70" stroke="#f00" stroke-width="2.5"/>
<text x="257.30" y="338.80" font-size="13">u<tspan font-size="9.5" dx="0.8" dy="3.6">2</tspan><tspan font-size="9.5" dx="-4.75" dy="-8.6">(0)</tspan></text>
<path d="M223.20,355.40H254.70" stroke="#00f" stroke-width="2.5"/>
<text x="257.30" y="359.90" font-size="13">u<tspan font-size="9.5" dx="0.8" dy="3.6">3</tspan><tspan font-size="9.5" dx="-4.75" dy="-8.6">(0)</tspan></text>
<path d="M223.20,377.20H254.70" stroke="#000" stroke-width="2.5"/>
<text x="257.30" y="381.30" font-size="13">b<tspan font-size="9.5" dx="0.8" dy="3.6">30</tspan><tspan dx="0.5" dy="-3.6">*u</tspan><tspan font-size="9.5" dx="0.6" dy="3.6">1</tspan><tspan font-size="9.5" dx="-4.75" dy="-8.6">(1)</tspan></text></g>
<g><path d="M437.80,494.77 L438.80,495.04 L439.80,495.27 L440.79,495.48 L441.79,495.65 L442.79,495.80 L443.79,495.92 L444.78,496.01 L445.78,496.08 L446.78,496.12 L447.78,496.14 L448.78,496.11 L449.77,495.99 L450.77,495.78 L451.77,495.52 L452.77,495.20 L453.77,494.87 L454.76,494.52 L455.76,494.18 L456.76,493.87 L457.76,493.61 L458.75,493.41 L459.75,493.29 L460.75,493.27 L461.75,493.30 L462.75,493.34 L463.74,493.39 L464.74,493.46 L465.74,493.53 L466.74,493.59 L467.74,493.66 L468.73,493.71 L469.73,493.74 L470.73,493.75 L471.73,493.67 L472.72,493.46 L473.72,493.15 L474.72,492.77 L475.72,492.34 L476.72,491.89 L477.71,491.45 L478.71,491.04 L479.71,490.69 L480.71,490.43 L481.70,490.28 L482.70,490.25 L483.70,490.30 L484.70,490.39 L485.70,490.51 L486.69,490.64 L487.69,490.77 L488.69,490.89 L489.69,490.98 L490.69,491.04 L491.68,491.03 L492.68,490.95 L493.68,490.80 L494.68,490.60 L495.67,490.36 L496.67,490.10 L497.67,489.84 L498.67,489.58 L499.67,489.35 L500.66,489.17 L501.66,489.04 L502.66,488.98 L503.66,489.00 L504.66,489.10 L505.65,489.24 L506.65,489.42 L507.65,489.62 L508.65,489.81 L509.64,489.99 L510.64,490.13 L511.64,490.23 L512.64,490.25 L513.64,490.23 L514.63,490.17 L515.63,490.10 L516.63,490.02 L517.63,489.92 L518.62,489.83 L519.62,489.75 L520.62,489.68 L521.62,489.63 L522.62,489.61 L523.61,489.71 L524.61,489.99 L525.61,490.41 L526.61,490.94 L527.61,491.51 L528.60,492.08 L529.60,492.61 L530.60,493.06 L531.60,493.37 L532.59,493.67 L533.59,493.96 L534.59,494.22 L535.59,494.42 L536.59,494.53 L537.58,494.55 L538.58,494.55 L539.58,494.55 L540.58,494.55 L541.58,494.55 L542.57,494.55 L543.57,494.55 L544.57,494.55 L545.57,494.55 L546.56,494.71 L547.56,495.05 L548.56,495.53 L549.56,496.13 L550.56,496.81 L551.55,497.54 L552.55,498.28 L553.55,499.02 L554.55,499.70 L555.54,500.31 L556.54,500.82 L557.54,501.18 L558.54,501.37 L559.54,501.36 L560.53,501.21 L561.53,500.94 L562.53,500.60 L563.53,500.23 L564.53,499.87 L565.52,499.54 L566.52,499.30 L567.52,499.17 L568.52,499.19 L569.51,499.32 L570.51,499.55 L571.51,499.86 L572.51,500.22 L573.51,500.62 L574.50,501.04 L575.50,501.46 L576.50,501.85 L577.50,502.20 L578.49,502.49 L579.49,502.70 L580.49,502.81 L581.49,502.79 L582.49,502.63 L583.48,502.36 L584.48,502.01 L585.48,501.61 L586.48,501.18 L587.48,500.75 L588.47,500.35 L589.47,500.02 L590.47,499.77 L591.47,499.65 L592.46,499.65 L593.46,499.74 L594.46,499.89 L595.46,500.08 L596.46,500.31 L597.45,500.55 L598.45,500.78 L599.45,501.00 L600.45,501.18 L601.45,501.31 L602.44,501.38 L603.44,501.36 L604.44,501.21 L605.44,500.96 L606.43,500.62 L607.43,500.23 L608.43,499.79 L609.43,499.34 L610.43,498.88 L611.42,498.46 L612.42,498.07 L613.42,497.76 L614.42,497.53 L615.41,497.42 L616.41,497.42 L617.41,497.49 L618.41,497.61 L619.41,497.75 L620.40,497.91 L621.40,498.07 L622.40,498.21 L623.40,498.31 L624.40,498.36 L625.39,498.33 L626.39,498.18 L627.39,497.93 L628.39,497.61 L629.38,497.24 L630.38,496.85 L631.38,496.47 L632.38,496.11 L633.38,495.82 L634.37,495.61 L635.37,495.51 L636.37,495.50 L637.37,495.50 L638.37,495.51 L639.36,495.52 L640.36,495.54 L641.36,495.57 L642.36,495.61 L643.35,495.67 L644.35,495.75 L645.35,495.84 L646.35,495.96 L647.35,496.10 L648.34,496.26 L649.34,496.45" stroke="#f00" class="c"/>
<path d="M437.80,495.66 L438.80,495.66 L439.80,495.65 L440.79,495.65 L441.79,495.65 L442.79,495.65 L443.79,495.65 L444.78,495.64 L445.78,495.64 L446.78,495.64 L447.78,495.64 L448.78,495.63 L449.77,495.63 L450.77,495.63 L451.77,495.63 L452.77,495.63 L453.77,495.62 L454.76,495.62 L455.76,495.62 L456.76,495.62 L457.76,495.61 L458.75,495.61 L459.75,495.61 L460.75,495.61 L461.75,495.61 L462.75,495.60 L463.74,495.60 L464.74,495.60 L465.74,495.60 L466.74,495.59 L467.74,495.59 L468.73,495.59 L469.73,495.59 L470.73,495.58 L471.73,495.58 L472.72,495.58 L473.72,495.58 L474.72,495.58 L475.72,495.57 L476.72,495.57 L477.71,495.57 L478.71,495.57 L479.71,495.56 L480.71,495.56 L481.70,495.56 L482.70,495.56 L483.70,495.56 L484.70,495.55 L485.70,495.55 L486.69,495.55 L487.69,495.55 L488.69,495.54 L489.69,495.54 L490.69,495.54 L491.68,495.54 L492.68,495.54 L493.68,495.53 L494.68,495.53 L495.67,495.53 L496.67,495.53 L497.67,495.52 L498.67,495.52 L499.67,495.52 L500.66,495.52 L501.66,495.52 L502.66,495.51 L503.66,495.51 L504.66,495.51 L505.65,495.51 L506.65,495.50 L507.65,495.50 L508.65,495.50 L509.64,495.50 L510.64,495.49 L511.64,495.49 L512.64,495.49 L513.64,495.49 L514.63,495.49 L515.63,495.48 L516.63,495.48 L517.63,495.48 L518.62,495.48 L519.62,495.47 L520.62,495.47 L521.62,495.47 L522.62,495.47 L523.61,495.47 L524.61,495.46 L525.61,495.46 L526.61,495.46 L527.61,495.46 L528.60,495.45 L529.60,495.45 L530.60,495.45 L531.60,495.45 L532.59,495.45 L533.59,495.44 L534.59,495.44 L535.59,495.44 L536.59,495.44 L537.58,495.43 L538.58,495.43 L539.58,495.43 L540.58,495.43 L541.58,495.42 L542.57,495.42 L543.57,495.42 L544.57,495.42 L545.57,495.42 L546.56,495.41 L547.56,495.41 L548.56,495.41 L549.56,495.41 L550.56,495.40 L551.55,495.40 L552.55,495.40 L553.55,495.40 L554.55,495.40 L555.54,495.39 L556.54,495.39 L557.54,495.39 L558.54,495.39 L559.54,495.38 L560.53,495.38 L561.53,495.38 L562.53,495.38 L563.53,495.38 L564.53,495.37 L565.52,495.37 L566.52,495.37 L567.52,495.37 L568.52,495.36 L569.51,495.36 L570.51,495.36 L571.51,495.36 L572.51,495.36 L573.51,495.35 L574.50,495.35 L575.50,495.35 L576.50,495.35 L577.50,495.34 L578.49,495.34 L579.49,495.34 L580.49,495.34 L581.49,495.33 L582.49,495.33 L583.48,495.33 L584.48,495.33 L585.48,495.33 L586.48,495.32 L587.48,495.32 L588.47,495.32 L589.47,495.32 L590.47,495.31 L591.47,495.31 L592.46,495.31 L593.46,495.31 L594.46,495.31 L595.46,495.30 L596.46,495.30 L597.45,495.30 L598.45,495.30 L599.45,495.29 L600.45,495.29 L601.45,495.29 L602.44,495.29 L603.44,495.29 L604.44,495.28 L605.44,495.28 L606.43,495.28 L607.43,495.28 L608.43,495.27 L609.43,495.27 L610.43,495.27 L611.42,495.27 L612.42,495.27 L613.42,495.26 L614.42,495.26 L615.41,495.26 L616.41,495.26 L617.41,495.25 L618.41,495.25 L619.41,495.25 L620.40,495.25 L621.40,495.24 L622.40,495.24 L623.40,495.24 L624.40,495.24 L625.39,495.24 L626.39,495.23 L627.39,495.23 L628.39,495.23 L629.38,495.23 L630.38,495.22 L631.38,495.22 L632.38,495.22 L633.38,495.22 L634.37,495.22 L635.37,495.21 L636.37,495.21 L637.37,495.21 L638.37,495.21 L639.36,495.20 L640.36,495.20 L641.36,495.20 L642.36,495.20 L643.35,495.20 L644.35,495.19 L645.35,495.19 L646.35,495.19 L647.35,495.19 L648.34,495.18 L649.34,495.18" stroke="#00f" class="c"/>
<path d="M437.80,495.18 L438.80,495.47 L439.79,495.60 L440.79,495.57 L441.79,495.41 L442.78,495.12 L443.78,494.74 L444.78,494.27 L445.77,493.73 L446.77,493.15 L447.77,492.52 L448.76,491.89 L449.76,491.25 L450.76,490.62 L451.75,490.02 L452.75,489.44 L453.74,488.89 L454.74,488.39 L455.74,487.93 L456.73,487.50 L457.73,487.09 L458.73,486.67 L459.72,486.23 L460.72,485.76 L461.72,485.22 L462.71,484.62 L463.71,483.92 L464.71,483.13 L465.70,482.24 L466.70,481.23 L467.70,480.09 L468.69,478.84 L469.69,477.50 L470.69,476.09 L471.68,474.63 L472.68,473.14 L473.68,471.66 L474.67,470.20 L475.67,468.75 L476.67,467.30 L477.66,465.83 L478.66,464.33 L479.65,462.78 L480.65,461.17 L481.65,459.50 L482.64,457.80 L483.64,456.07 L484.64,454.31 L485.63,452.54 L486.63,450.74 L487.63,448.89 L488.62,446.98 L489.62,444.98 L490.62,442.89 L491.61,440.70 L492.61,438.42 L493.61,436.06 L494.60,433.63 L495.60,431.13 L496.60,428.58 L497.59,425.98 L498.59,423.36 L499.59,420.70 L500.58,418.02 L501.58,415.33 L502.58,412.63 L503.57,409.93 L504.57,407.24 L505.57,404.57 L506.56,401.92 L507.56,399.28 L508.55,396.64 L509.55,394.00 L510.55,391.34 L511.54,388.66 L512.54,385.94 L513.54,383.22 L514.53,380.52 L515.53,377.85 L516.53,375.24 L517.52,372.70 L518.52,370.23 L519.52,367.82 L520.51,365.48 L521.51,363.22 L522.51,361.05 L523.50,358.97 L524.50,357.01 L525.50,355.17 L526.49,353.44 L527.49,351.81 L528.49,350.25 L529.48,348.73 L530.48,347.24 L531.48,345.80 L532.47,344.42 L533.47,343.14 L534.46,341.98 L535.46,340.96 L536.46,340.07 L537.45,339.28 L538.45,338.60 L539.45,338.00 L540.44,337.50 L541.44,337.13 L542.44,336.92 L543.43,336.89 L544.43,337.06 L545.43,337.39 L546.42,337.85 L547.42,338.39 L548.42,339.01 L549.41,339.71 L550.41,340.49 L551.41,341.36 L552.40,342.32 L553.40,343.37 L554.40,344.49 L555.39,345.68 L556.39,346.92 L557.39,348.21 L558.38,349.54 L559.38,350.94 L560.38,352.41 L561.37,353.97 L562.37,355.61 L563.36,357.32 L564.36,359.10 L565.36,360.93 L566.35,362.81 L567.35,364.77 L568.35,366.88 L569.34,369.22 L570.34,371.85 L571.34,374.82 L572.33,378.04 L573.33,381.38 L574.33,384.71 L575.32,387.91 L576.32,390.90 L577.32,393.71 L578.31,396.39 L579.31,399.01 L580.31,401.60 L581.30,404.22 L582.30,406.88 L583.30,409.58 L584.29,412.29 L585.29,415.01 L586.29,417.71 L587.28,420.39 L588.28,423.02 L589.27,425.60 L590.27,428.11 L591.27,430.56 L592.26,432.93 L593.26,435.23 L594.26,437.44 L595.25,439.57 L596.25,441.61 L597.25,443.56 L598.24,445.43 L599.24,447.25 L600.24,449.03 L601.23,450.80 L602.23,452.59 L603.23,454.41 L604.22,456.30 L605.22,458.27 L606.22,460.31 L607.21,462.39 L608.21,464.47 L609.21,466.52 L610.20,468.51 L611.20,470.41 L612.20,472.19 L613.19,473.87 L614.19,475.45 L615.19,476.97 L616.18,478.41 L617.18,479.79 L618.17,481.08 L619.17,482.26 L620.17,483.32 L621.16,484.24 L622.16,485.03 L623.16,485.70 L624.15,486.29 L625.15,486.81 L626.15,487.28 L627.14,487.73 L628.14,488.19 L629.14,488.67 L630.13,489.16 L631.13,489.67 L632.13,490.19 L633.12,490.71 L634.12,491.23 L635.12,491.74 L636.11,492.24 L637.11,492.73 L638.11,493.18 L639.10,493.61 L640.10,493.99 L641.10,494.33 L642.09,494.61 L643.09,494.84 L644.08,495.00 L645.08,495.08 L646.08,495.08 L647.07,495.00 L648.07,494.82 L649.07,494.55" stroke="#000" class="c"/>
<rect x="420.70" y="320.60" width="256.80" height="206.90" fill="none" stroke="#3a3a3a" stroke-width="1"/>
<path d="M437.80,527.50V523.50 M437.80,320.60V324.60 M472.03,527.50V523.50 M472.03,320.60V324.60 M506.26,527.50V523.50 M506.26,320.60V324.60 M540.49,527.50V523.50 M540.49,320.60V324.60 M574.72,527.50V523.50 M574.72,320.60V324.60 M608.95,527.50V523.50 M608.95,320.60V324.60 M643.18,527.50V523.50 M643.18,320.60V324.60 M420.70,495.50H424.90 M677.50,495.50H673.30 M420.70,463.68H424.90 M677.50,463.68H673.30 M420.70,431.86H424.90 M677.50,431.86H673.30 M420.70,400.04H424.90 M677.50,400.04H673.30 M420.70,368.22H424.90 M677.50,368.22H673.30 M420.70,336.40H424.90 M677.50,336.40H673.30" stroke="#3a3a3a" stroke-width="1" fill="none" stroke-linecap="butt"/>
<text x="437.80" y="542.00" font-size="13" text-anchor="middle" >0</text>
<text x="472.03" y="542.00" font-size="13" text-anchor="middle" >5</text>
<text x="506.26" y="542.00" font-size="13" text-anchor="middle" >10</text>
<text x="540.49" y="542.00" font-size="13" text-anchor="middle" >15</text>
<text x="574.72" y="542.00" font-size="13" text-anchor="middle" >20</text>
<text x="608.95" y="542.00" font-size="13" text-anchor="middle" >25</text>
<text x="643.18" y="542.00" font-size="13" text-anchor="middle" >30</text>
<text x="677.41" y="542.00" font-size="13" text-anchor="middle" >35</text>
<text x="416.30" y="530.72" font-size="13" text-anchor="end" >-0.2</text>
<text x="416.30" y="498.90" font-size="13" text-anchor="end" >0.0</text>
<text x="416.30" y="467.08" font-size="13" text-anchor="end" >0.2</text>
<text x="416.30" y="435.26" font-size="13" text-anchor="end" >0.4</text>
<text x="416.30" y="403.44" font-size="13" text-anchor="end" >0.6</text>
<text x="416.30" y="371.62" font-size="13" text-anchor="end" >0.8</text>
<text x="416.30" y="339.80" font-size="13" text-anchor="end" >1.0</text>
<text x="549.10" y="564.70" font-size="15.5" text-anchor="middle">x<tspan font-size="10.3" dy="4.4">3</tspan><tspan dy="-4.4">/b</tspan><tspan font-size="10.3" dy="4.4">40</tspan></text>
<text transform="translate(390.90,424.05) rotate(-90)" font-size="15.4" text-anchor="middle">Normalized Displacement</text>
<text x="383.70" y="307.80" font-size="22" text-anchor="start" >(d)</text>
<rect x="596.70" y="322.30" width="78.30" height="66.10" fill="#fff" stroke="#555" stroke-width="1"/>
<path d="M598.00,333.30H630.00" stroke="#f00" stroke-width="2.5"/>
<text x="633.20" y="338.10" font-size="13">u<tspan font-size="9.5" dx="0.8" dy="3.6">2</tspan><tspan font-size="9.5" dx="-4.75" dy="-8.6">(0)</tspan></text>
<path d="M598.00,355.00H630.00" stroke="#00f" stroke-width="2.5"/>
<text x="633.20" y="359.50" font-size="13">u<tspan font-size="9.5" dx="0.8" dy="3.6">3</tspan><tspan font-size="9.5" dx="-4.75" dy="-8.6">(0)</tspan></text>
<path d="M598.00,376.40H630.00" stroke="#000" stroke-width="2.5"/>
<text x="633.20" y="380.50" font-size="13">b<tspan font-size="9.5" dx="0.8" dy="3.6">40</tspan><tspan dx="0.5" dy="-3.6">*u</tspan><tspan font-size="9.5" dx="0.6" dy="3.6">1</tspan><tspan font-size="9.5" dx="-4.75" dy="-8.6">(1)</tspan></text></g>
</svg></body></html>
